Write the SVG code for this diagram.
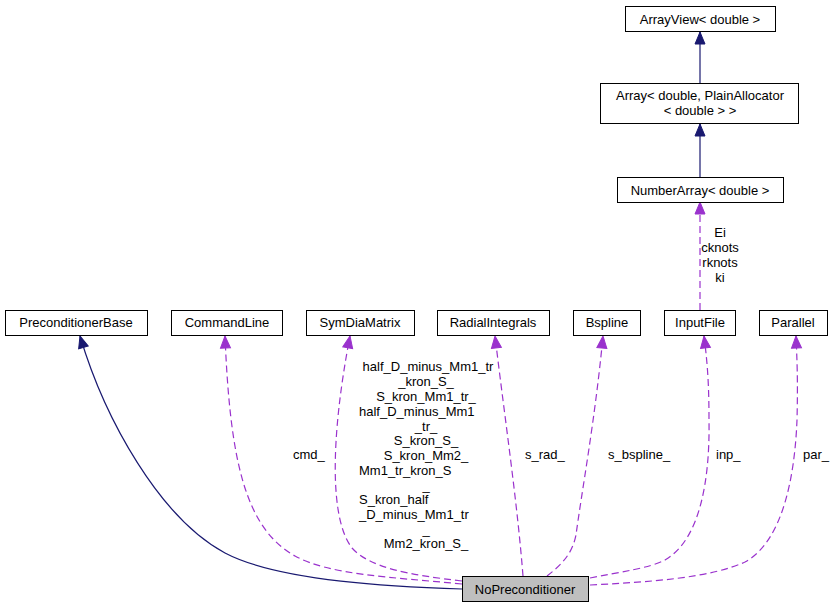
<svg xmlns="http://www.w3.org/2000/svg" width="835" height="608" viewBox="0 0 835 608">
<defs>
<marker id="ab" markerUnits="userSpaceOnUse" markerWidth="14" markerHeight="12" refX="12" refY="5" orient="auto" overflow="visible"><path d="M0,0 L12,5 L0,10 z" fill="#191970" stroke="#191970" stroke-width="1"/></marker>
<marker id="ap" markerUnits="userSpaceOnUse" markerWidth="14" markerHeight="12" refX="12" refY="5" orient="auto" overflow="visible"><path d="M0,0 L12,5 L0,10 z" fill="#9a32cd" stroke="#9a32cd" stroke-width="1"/></marker>
</defs>
<style>
.box{fill:#fff;stroke:#000;stroke-width:1}
.cur{fill:#bfbfbf;stroke:#000;stroke-width:1}
text{font-family:"Liberation Sans",Arial,Helvetica,sans-serif;font-size:13px;fill:#000}
.c{text-anchor:middle}
.inh{fill:none;stroke:#191970;stroke-width:1.2;marker-end:url(#ab)}
.use{fill:none;stroke:#9a32cd;stroke-width:1.2;stroke-dasharray:7,4;marker-end:url(#ap)}
</style>
<g id="edges">
<path class="inh" d="M700,83 L700,32"/>
<path class="inh" d="M700,177 L700,124"/>
<path class="use" d="M700,310 L700,202"/>
<path class="inh" d="M462,589 C400,587 280,582 225,553 C160,518 105,420 80,336"/>
<path class="use" d="M462,584 C390,577 330,575 295,556 C245,528 230,460 225,336"/>
<path class="use" d="M462,581 C410,575 370,568 352,548 C330,520 330,440 350,336"/>
<path class="use" d="M523,576 C517,500 505,420 495,336"/>
<path class="use" d="M547,576 C560,566 572,555 576,535 C582,490 595,420 603,336"/>
<path class="use" d="M590,578 C620,572 650,568 665,560 C700,540 710,480 709,420 C709,380 707,360 704,336"/>
<path class="use" d="M590,585 C650,582 710,578 745,562 C785,540 795,470 797,420 C798,380 797,360 796,336"/>
</g>
<g id="edge-labels">
<text class="c" x="720" y="237">Ei</text>
<text class="c" x="720" y="252">cknots</text>
<text class="c" x="720" y="267">rknots</text>
<text class="c" x="720" y="282">ki</text>
<text x="293" y="459">cmd_</text>
<text x="525" y="459">s_rad_</text>
<text x="608" y="459">s_bspline_</text>
<text x="716" y="459">inp_</text>
<text x="803" y="459">par_</text>
<text class="c" x="428" y="371">half_D_minus_Mm1_tr</text>
<text class="c" x="426" y="386">_kron_S_</text>
<text class="c" x="426" y="401">S_kron_Mm1_tr_</text>
<text x="359" y="416">half_D_minus_Mm1</text>
<text class="c" x="426" y="431">_tr_</text>
<text class="c" x="426" y="445">S_kron_S_</text>
<text class="c" x="426" y="460">S_kron_Mm2_</text>
<text x="359" y="475">Mm1_tr_kron_S</text>
<text class="c" x="426" y="490">_</text>
<text x="359" y="504">S_kron_half</text>
<text x="359" y="519">_D_minus_Mm1_tr</text>
<text class="c" x="426" y="534">_</text>
<text class="c" x="426" y="548">Mm2_kron_S_</text>
</g>
<g id="ArrayView"><rect class="box" x="625.5" y="6.5" width="150" height="25"/><text class="c" x="700" y="24">ArrayView&lt; double &gt;</text></g>
<g id="Array"><rect class="box" x="600.5" y="83.5" width="198" height="40"/><text class="c" x="700" y="100">Array&lt; double, PlainAllocator</text><text class="c" x="700" y="115">&lt; double &gt; &gt;</text></g>
<g id="NumberArray"><rect class="box" x="617.5" y="177.5" width="166" height="25"/><text class="c" x="700" y="195">NumberArray&lt; double &gt;</text></g>
<g id="PreconditionerBase"><rect class="box" x="5.5" y="310.5" width="142" height="25"/><text class="c" x="76" y="327">PreconditionerBase</text></g>
<g id="CommandLine"><rect class="box" x="171.5" y="310.5" width="111" height="25"/><text class="c" x="227" y="327">CommandLine</text></g>
<g id="SymDiaMatrix"><rect class="box" x="306.5" y="310.5" width="108" height="25"/><text class="c" x="360" y="327">SymDiaMatrix</text></g>
<g id="RadialIntegrals"><rect class="box" x="437.5" y="310.5" width="112" height="25"/><text class="c" x="493" y="327">RadialIntegrals</text></g>
<g id="Bspline"><rect class="box" x="573.5" y="310.5" width="67" height="25"/><text class="c" x="607" y="327">Bspline</text></g>
<g id="InputFile"><rect class="box" x="664.5" y="310.5" width="71" height="25"/><text class="c" x="700" y="327">InputFile</text></g>
<g id="Parallel"><rect class="box" x="759.5" y="310.5" width="68" height="25"/><text class="c" x="793" y="327">Parallel</text></g>
<g id="NoPreconditioner"><rect class="cur" x="462.5" y="576.5" width="126" height="25"/><text class="c" x="525" y="594">NoPreconditioner</text></g>
</svg>
